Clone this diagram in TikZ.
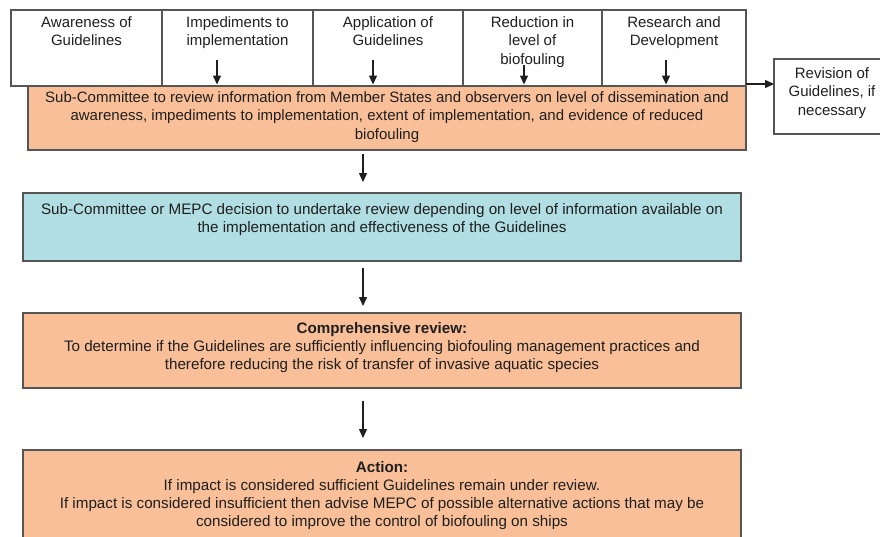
\documentclass[tikz,border=0pt]{standalone}
\usepackage{fontspec}
\setmainfont{Liberation Sans}
\usetikzlibrary{arrows.meta,calc}
\definecolor{orng}{HTML}{F9BF98}
\definecolor{blu}{HTML}{B0DEE3}
\definecolor{edgec}{HTML}{555555}
\begin{document}
\begin{tikzpicture}[x=1pt,y=-1pt,
  box/.style={draw=edgec, line width=1.1pt, inner sep=0pt, outer sep=0pt, anchor=north west},
  txt/.style={font=\fontsize{15}{18.6}\selectfont, align=center, inner sep=0pt, anchor=north, text=black!88},
  txtb/.style={font=\fontsize{15.2}{18}\selectfont, align=center, inner sep=0pt, anchor=north, text=black!88},
  arr/.style={-{Triangle[length=9pt,width=8pt]}, line width=1.4pt, black!88}]
\useasboundingbox (0,0) rectangle (880,536);
\clip (0,0) rectangle (880,536);
% top row
\node[box, minimum width=151pt, minimum height=76pt] (t1) at (11,10) {};
\node[box, minimum width=151pt, minimum height=76pt] (t2) at (162,10) {};
\node[box, minimum width=150pt, minimum height=76pt] (t3) at (313,10) {};
\node[box, minimum width=139pt, minimum height=76pt] (t4) at (463,10) {};
\node[box, minimum width=144pt, minimum height=76pt] (t5) at (602,10) {};
\node[txt] (l1) at (86.5,16) {Awareness of\\Guidelines};
\node[txt] (l2) at (237.5,16) {Impediments to\\implementation};
\node[txt] (l3) at (388,16) {Application of\\Guidelines};
\node[txt] (l4) at (532.5,16) {Reduction in\\level of\\biofouling};
\node[txt] (l5) at (674,16) {Research and\\Development};
% orange box 1
\node[box, fill=orng, minimum width=718pt, minimum height=64pt] (o1) at (28,86) {};
\node[txt] (lo1) at (387,91) {Sub-Committee to review information from Member States and observers on level of dissemination and\\awareness, impediments to implementation, extent of implementation, and evidence of reduced\\biofouling};
% revision box
\node[box, minimum width=120pt, minimum height=75pt] (rev) at (774,59) {};
\node[txt] (lrev) at (832,67) {Revision of\\Guidelines, if\\necessary};
% arrows from top boxes
\coordinate (a2) at (217,60);
\coordinate (a3) at (373,60);
\coordinate (a4) at (524,65);
\coordinate (a5) at (666,60);
\draw[arr, shorten >=1.5pt] (a2) -- (a2 |- o1.north);
\draw[arr, shorten >=1.5pt] (a3) -- (a3 |- o1.north);
\draw[arr, shorten >=1.5pt] (a4) -- (a4 |- o1.north);
\draw[arr, shorten >=1.5pt] (a5) -- (a5 |- o1.north);
\coordinate (ne) at ([yshift=2pt]o1.north east);
\draw[arr] (ne) -- (ne -| rev.west);
% blue box
\node[box, fill=blu, minimum width=718pt, minimum height=68pt] (bl) at (23,193) {};
\node[txtb] (lbl) at (382,203) {Sub-Committee or MEPC decision to undertake review depending on level of information available on\\the implementation and effectiveness of the Guidelines};
% comprehensive review
\node[box, fill=orng, minimum width=718pt, minimum height=75pt] (cr) at (23,313) {};
\node[txtb] (lcr) at (382,322) {\textbf{Comprehensive review:}\\To determine if the Guidelines are sufficiently influencing biofouling management practices and\\therefore reducing the risk of transfer of invasive aquatic species};
% action
\node[box, fill=orng, minimum width=718pt, minimum height=100pt] (ac) at (23,450) {};
\node[txtb] (lac) at (382,461) {\textbf{Action:}\\If impact is considered sufficient Guidelines remain under review.\\If impact is considered insufficient then advise MEPC of possible alternative actions that may be\\considered to improve the control of biofouling on ships};
% vertical arrows
\draw[arr, shorten <=4pt, shorten >=11pt] ([xshift=-24pt]o1.south) -- ([xshift=-24pt]o1.south |- bl.north);
\draw[arr, shorten <=7pt, shorten >=7pt] ([xshift=-19pt]bl.south) -- ([xshift=-19pt]bl.south |- cr.north);
\draw[arr, shorten <=13pt, shorten >=12pt] ([xshift=-19pt]cr.south) -- ([xshift=-19pt]cr.south |- ac.north);
\end{tikzpicture}
\end{document}
